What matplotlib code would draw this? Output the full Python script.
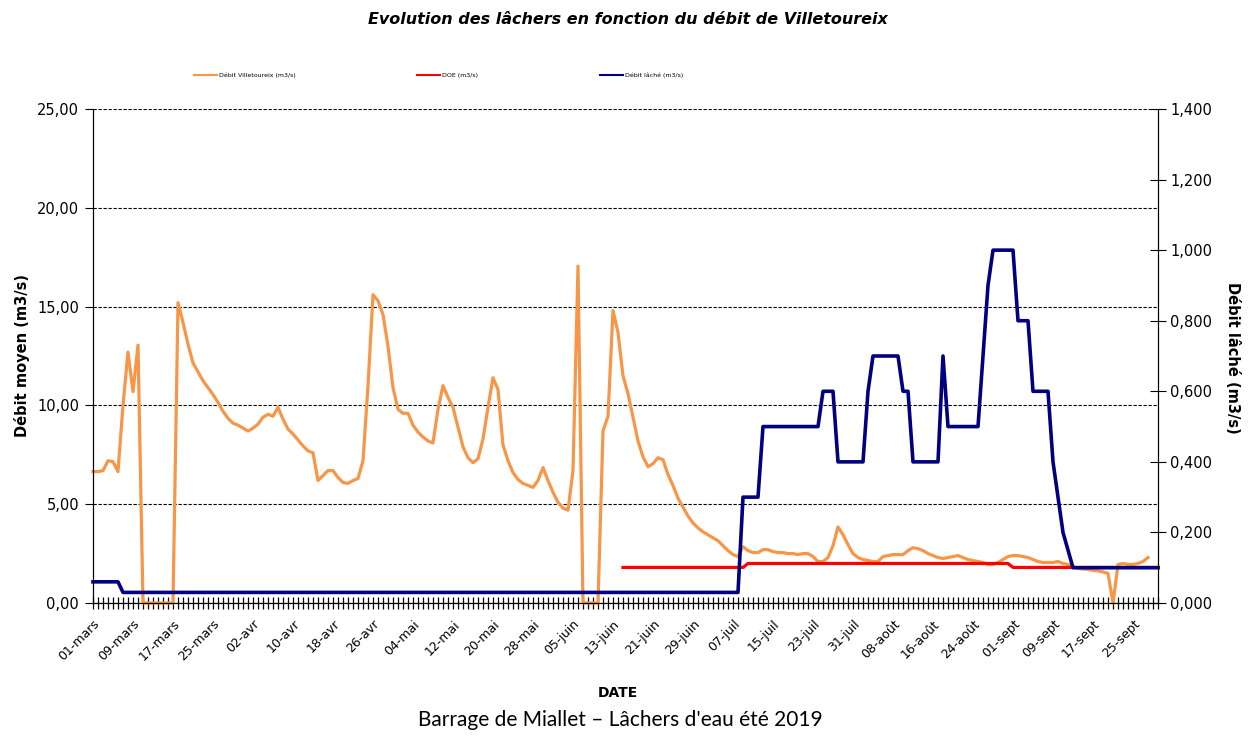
import numpy as np
import matplotlib.pyplot as plt
from matplotlib.lines import Line2D
from matplotlib.ticker import FuncFormatter, MultipleLocator

# Débit journalier à Villetoureix (m3/s), un point par jour depuis le 01-mars-2019
debit_villetoureix = [
    6.65, 6.65, 6.7, 7.2, 7.15, 6.65, 10.0, 12.7, 10.7, 13.05,
    0, 0, 0, 0, 0, 0, 0, 15.2, 14.2, 13.1,
    12.15, 11.7, 11.25, 10.9, 10.55, 10.15, 9.7, 9.35, 9.1, 9.0,
    8.85, 8.7, 8.85, 9.05, 9.4, 9.55, 9.45, 9.9, 9.3, 8.8,
    8.55, 8.25, 7.95, 7.7, 7.6, 6.2, 6.45, 6.7, 6.7, 6.35,
    6.1, 6.05, 6.2, 6.3, 7.2, 11.0, 15.6, 15.3, 14.6, 13.0,
    10.9, 9.8, 9.6, 9.6, 9.0, 8.65, 8.4, 8.2, 8.1, 9.8,
    11.0, 10.4, 9.9, 8.9, 7.9, 7.35, 7.1, 7.3, 8.3, 9.9,
    11.4, 10.8, 8.0, 7.2, 6.6, 6.25, 6.05, 5.95, 5.85, 6.2,
    6.85, 6.2, 5.6, 5.1, 4.8, 4.7, 6.7, 17.05, 0, 0,
    0, 0, 8.7, 9.45, 14.8, 13.7, 11.5, 10.6, 9.4, 8.2,
    7.4, 6.9, 7.05, 7.35, 7.25, 6.5, 5.95, 5.3, 4.85, 4.4,
    4.05, 3.8, 3.6, 3.45, 3.3, 3.15, 2.9, 2.65, 2.45, 2.35,
    2.85, 2.65, 2.55, 2.55, 2.7, 2.7, 2.6, 2.55, 2.55, 2.5,
    2.5, 2.45, 2.5, 2.5, 2.35, 2.1, 2.1, 2.3, 2.9, 3.85,
    3.45, 2.95, 2.5, 2.3, 2.2, 2.15, 2.1, 2.1, 2.35, 2.4,
    2.45, 2.45, 2.45, 2.65, 2.8, 2.75, 2.65, 2.5, 2.4, 2.3,
    2.25, 2.3, 2.35, 2.4, 2.3, 2.2, 2.15, 2.1, 2.05, 1.95,
    1.95, 2.05, 2.2, 2.35, 2.4, 2.4, 2.35, 2.3, 2.2, 2.1,
    2.05, 2.05, 2.05, 2.1, 2.0, 1.95, 1.85, 1.75, 1.72, 1.7,
    1.65, 1.63, 1.57, 1.5, 0.0, 1.95, 2.0, 1.95, 1.95, 2.0,
    2.1, 2.3,
]

# DOE (m3/s) : jours depuis le 01-mars et valeurs aux changements
doe_jours = [106, 130, 131, 183, 184, 213]
doe_valeurs = [1.8, 1.8, 2.0, 2.0, 1.8, 1.8]

# Débit lâché (m3/s), axe secondaire
lache_jours = [0, 5, 6, 129, 130, 133, 134, 145, 146, 148, 149, 154, 155, 156,
               161, 162, 163, 164, 169, 170, 171, 177, 178, 179, 180, 184, 185,
               187, 188, 191, 192, 193, 194, 195, 196, 213]
lache_valeurs = [0.06, 0.06, 0.03, 0.03, 0.30, 0.30, 0.50, 0.50, 0.60, 0.60,
                 0.40, 0.40, 0.60, 0.70, 0.70, 0.60, 0.60, 0.40, 0.40, 0.70,
                 0.50, 0.50, 0.70, 0.90, 1.00, 1.00, 0.80, 0.80, 0.60, 0.60,
                 0.40, 0.30, 0.20, 0.15, 0.10, 0.10]

etiquettes_dates = [
    "01-mars", "09-mars", "17-mars", "25-mars", "02-avr", "10-avr", "18-avr",
    "26-avr", "04-mai", "12-mai", "20-mai", "28-mai", "05-juin", "13-juin",
    "21-juin", "29-juin", "07-juil", "15-juil", "23-juil", "31-juil",
    "08-août", "16-août", "24-août", "01-sept", "09-sept", "17-sept", "25-sept",
]
nb_jours = 214

ORANGE = "#F79646"
ROUGE = "#FF0000"
BLEU = "#000080"

fig = plt.figure(figsize=(12.52, 7.42), dpi=100)
ax = fig.add_axes([93 / 1252, 1 - 603 / 742, 1065 / 1252, 494 / 742])
ax2 = ax.twinx()

jours = np.arange(len(debit_villetoureix))
ax.plot(jours, debit_villetoureix, color=ORANGE, lw=2.3, clip_on=False,
        solid_joinstyle="round")
ax.plot(doe_jours, doe_valeurs, color=ROUGE, lw=2.3, clip_on=False)
ax2.plot(lache_jours, lache_valeurs, color=BLEU, lw=2.6, clip_on=False)

ax.set_xlim(0, nb_jours - 1)
ax.set_ylim(0, 25)
ax2.set_ylim(0, 1.4)

# axe gauche
ax.yaxis.set_major_locator(MultipleLocator(5))
ax.yaxis.set_major_formatter(FuncFormatter(lambda v, _: f"{v:.2f}".replace(".", ",")))
ax.yaxis.grid(True, linestyle=(0, (3, 1.5)), color="black", lw=0.8)
ax.tick_params(axis="y", direction="out", length=6, labelsize=10.5, pad=4)

# axe droit
ax2.yaxis.set_major_locator(MultipleLocator(0.2))
ax2.yaxis.set_major_formatter(FuncFormatter(lambda v, _: f"{v:.3f}".replace(".", ",")))
ax2.tick_params(axis="y", direction="inout", length=12, labelsize=10.5, pad=3)

# axe des dates
ax.set_xticks(np.arange(0, nb_jours, 8))
ax.set_xticklabels(etiquettes_dates, rotation=45, ha="right", va="top",
                   rotation_mode="anchor", fontsize=9)
ax.set_xticks(np.arange(0, nb_jours), minor=True)
ax.tick_params(axis="x", which="both", direction="inout", length=9, width=0.9, pad=6)

for a in (ax, ax2):
    a.spines["top"].set_visible(False)
    for s in ("left", "right", "bottom"):
        a.spines[s].set_color("black")

fig.text(628 / 1252, 1 - 20 / 742, "Evolution des lâchers en fonction du débit de Villetoureix",
         ha="center", va="center", fontsize=11.5, fontweight="bold", style="italic")
fig.text(22 / 1252, 1 - 356 / 742, "Débit moyen (m3/s)", rotation=90,
         ha="center", va="center", fontsize=10.5, fontweight="bold")
fig.text(1233 / 1252, 1 - 358 / 742, "Débit lâché (m3/s)", rotation=270,
         ha="center", va="center", fontsize=10.5, fontweight="bold")
fig.text(618 / 1252, 1 - 693 / 742, "DATE", ha="center", va="center",
         fontsize=10, fontweight="bold")
fig.text(620 / 1252, 1 - 720 / 742, "Barrage de Miallet – Lâchers d'eau été 2019",
         ha="center", va="center", fontsize=15, family=["Lato", "DejaVu Sans"])

poignees = [Line2D([], [], color=ORANGE, lw=1.5),
            Line2D([], [], color=ROUGE, lw=1.5),
            Line2D([], [], color=BLEU, lw=1.5)]
fig.legend(poignees, ["Débit Villetoureix (m3/s)", "DOE (m3/s)", "Débit lâché (m3/s)"],
           loc="center left", bbox_to_anchor=(188 / 1252, 1 - 75 / 742), ncol=3,
           frameon=False, fontsize=4.5, handlelength=3.7, handletextpad=0.3,
           columnspacing=19.5)

fig.savefig("out.png", dpi=100)
